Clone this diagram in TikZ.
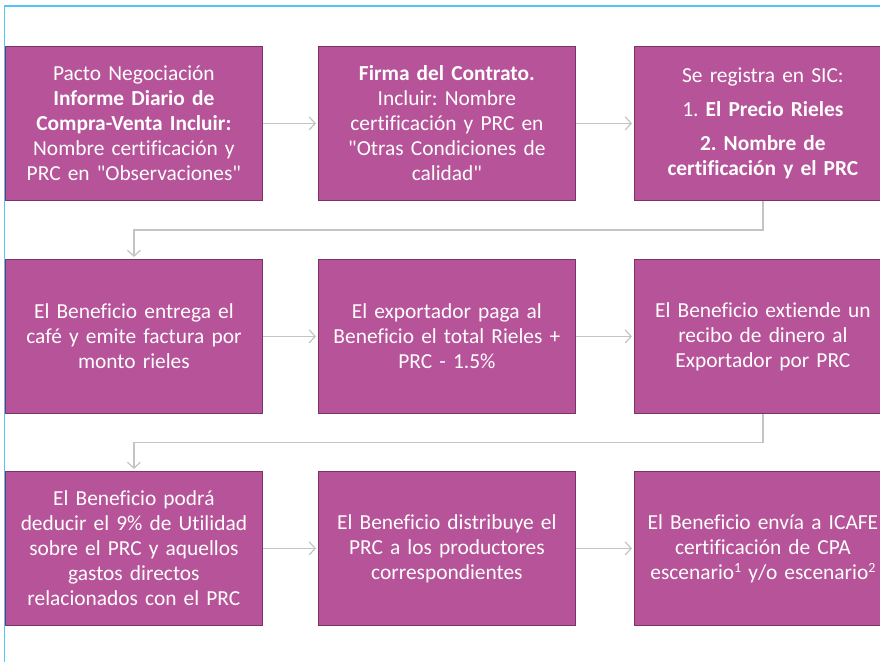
\documentclass[tikz,border=0pt]{standalone}
\usepackage{fontspec}
\setmainfont{Carlito}[Ligatures={TeXOff,NoCommon}]
\usetikzlibrary{arrows.meta,calc}
\definecolor{boxfill}{HTML}{B75399}
\definecolor{boxline}{HTML}{7A3468}
\definecolor{conncol}{HTML}{C4C4C4}
\definecolor{frame}{HTML}{55C6F3}
\frenchspacing
\begin{document}
\begin{tikzpicture}[x=1pt,y=1pt,
  procbox/.style={draw=boxline,line width=0.8pt,fill=boxfill,text=white,
    minimum width=257pt,minimum height=154pt,text width=250pt,align=center,
    anchor=north west,inner sep=0pt,
    font=\fontsize{21.4pt}{25pt}\selectfont},
  conn/.style={draw=conncol,line width=1.4pt,
    -{Straight Barb[length=6pt,width=13pt,line width=1.2pt]},shorten >=2pt}]
\useasboundingbox (0,0) rectangle (880,-662);
\fill[white] (0,0) rectangle (880,-662);
% boxes
\node[procbox] (b1) at (5,-46) {Pacto Negociación\\ \textbf{Informe Diario de}\\ \textbf{Compra-Venta Incluir:}\\ Nombre certificación y\\ PRC en "Observaciones"};
\node[procbox] (b2) at (318,-46) {\textbf{Firma del Contrato.}\\ Incluir: Nombre\\ certificación y PRC en\\ "Otras Condiciones de\\ calidad"};
\node[procbox] (b3) at (634,-46) {Se registra en SIC:\\[9pt] 1. \textbf{El Precio Rieles}\\[9pt] \textbf{2. Nombre de}\\ \textbf{certificación y el PRC}};
\node[procbox] (b4) at (5,-259) {El Beneficio entrega el\\ café y emite factura por\\ monto rieles};
\node[procbox] (b5) at (318,-259) {El exportador paga al\\ Beneficio el total Rieles +\\ PRC - 1.5\%};
\node[procbox] (b6) at (634,-259) {El Beneficio extiende un\\ recibo de dinero al\\ Exportador por PRC};
\node[procbox] (b7) at (5,-471) {El Beneficio podrá\\ deducir el 9\% de Utilidad\\ sobre el PRC y aquellos\\ gastos directos\\ relacionados con el PRC};
\node[procbox] (b8) at (318,-471) {El Beneficio distribuye el\\ PRC a los productores\\ correspondientes};
\node[procbox] (b9) at (634,-471) {El Beneficio envía a ICAFE\\ certificación de CPA\\ escenario\raisebox{0.32em}{\fontsize{14pt}{14pt}\selectfont 1} y/o escenario\raisebox{0.32em}{\fontsize{14pt}{14pt}\selectfont 2}};
% connectors
\draw[conn] (b1.east) -- (b2.west);
\draw[conn] (b2.east) -- (b3.west);
\draw[conn] (b4.east) -- (b5.west);
\draw[conn] (b5.east) -- (b6.west);
\draw[conn] (b7.east) -- (b8.west);
\draw[conn] (b8.east) -- (b9.west);
\coordinate (m1) at ($(b3.south)!0.5!(b6.north)$);
\coordinate (m2) at ($(b6.south)!0.5!(b9.north)$);
\draw[conn] (b3.south) -- (m1) -| (b4.north);
\draw[conn] (b6.south) -- (m2) -| (b7.north);
% frame lines
\draw[frame,line width=1.5pt] (4.5,-662) -- (4.5,-6) -- (880,-6);
\end{tikzpicture}
\end{document}
